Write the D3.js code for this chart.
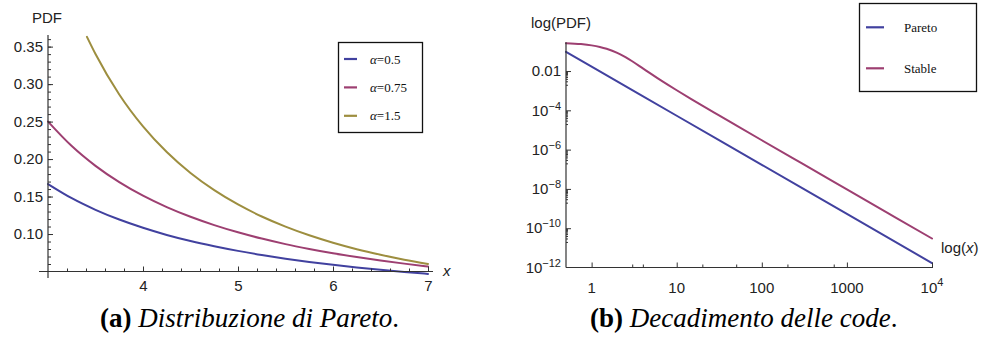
<!DOCTYPE html>
<html>
<head>
<meta charset="utf-8">
<script src="https://cdn.jsdelivr.net/npm/d3@7"></script>
<style>
  html, body { margin: 0; padding: 0; background: #fff; }
  svg { display: block; }
  .tick-label { font-family: "Liberation Sans", Arial, sans-serif; font-size: 15px; fill: #222; }
  .legend-text { font-family: "Liberation Serif", "Times New Roman", serif; font-size: 13px; fill: #111; }
  .caption { font-family: "Liberation Serif", "Times New Roman", serif; font-size: 27px; fill: #000; }
</style>
</head>
<body>
<svg id="chart" width="989" height="345"></svg>
<script>
// ---- Panel (a): Pareto densities for three tail indices ----
const paretoX = [3, 3.25, 3.5, 3.75, 4, 4.25, 4.5, 4.75, 5, 5.25, 5.5, 5.75, 6, 6.25, 6.5, 6.75, 7];
const pdfAlpha050 = [0.1667, 0.1478, 0.1323, 0.1193, 0.1083, 0.0988, 0.0907, 0.0837, 0.0775, 0.0720, 0.0671, 0.0628, 0.0589, 0.0554, 0.0523, 0.0494, 0.0468];
const pdfAlpha075 = [0.2500, 0.2173, 0.1909, 0.1692, 0.1511, 0.1359, 0.1230, 0.1119, 0.1023, 0.0939, 0.0865, 0.0801, 0.0743, 0.0692, 0.0646, 0.0605, 0.0567];
const paretoX15 = [3.41, 3.5, 3.75, 4, 4.25, 4.5, 4.75, 5, 5.25, 5.5, 5.75, 6, 6.25, 6.5, 6.75, 7];
const pdfAlpha150 = [0.3630, 0.3401, 0.2862, 0.2436, 0.2093, 0.1814, 0.1585, 0.1394, 0.1234, 0.1099, 0.0983, 0.0884, 0.0798, 0.0724, 0.0658, 0.0601];
const legendA = ["0.5", "0.75", "1.5"];
const yTicksA = [0.10, 0.15, 0.20, 0.25, 0.30, 0.35];
const xTicksA = [4, 5, 6, 7];

// ---- Panel (b): tail decay on log-log axes ----
const tailXPareto = [0.5, 1, 10, 100, 1000, 10000];
const tailPareto = [0.0949, 0.0168, 5.30e-5, 1.68e-7, 5.30e-10, 1.68e-12];
const tailXStable = [0.5, 0.75, 1, 1.25, 1.5, 2, 2.5, 3, 4, 5, 6, 8, 10, 15, 20, 30, 50, 100, 300, 1000, 3000, 10000];
const tailStable = [0.262, 0.2347, 0.2020, 0.1681, 0.1361, 0.0846, 0.0506, 0.0315, 0.01365, 0.00711, 0.00422, 0.00191, 0.00105, 3.63e-4, 1.73e-4, 6.19e-5, 1.71e-5, 3.0e-6, 1.92e-7, 9.46e-9, 6.07e-10, 2.99e-11];
const legendB = ["Pareto", "Stable"];
const yExpB = [-2, -4, -6, -8, -10, -12];
const xTicksB = [1, 10, 100, 1000, 10000];
const xMinorB = [3, 4, 20, 50, 200, 700];

const colors = ["#41419f", "#9d3f71", "#9d8e3f"];
const axisColor = "#333";

const svg = d3.select("#chart");

function drawCurve(g, xs, ys, x, y, color) {
  const pts = xs.map((v, i) => [v, ys[i]]);
  g.append("path")
    .datum(pts)
    .attr("fill", "none")
    .attr("stroke", color)
    .attr("stroke-width", 2)
    .attr("stroke-linecap", "round")
    .attr("d", d3.line().x(d => x(d[0])).y(d => y(d[1])).curve(d3.curveMonotoneX));
}

// ================= Panel (a) =================
(function () {
  const x = d3.scaleLinear().domain([3, 7]).range([48, 428]);
  const y = d3.scaleLinear().domain([0.05, 0.3655]).range([271.5, 35]);
  const g = svg.append("g");

  // curves
  drawCurve(g, paretoX, pdfAlpha050, x, y, colors[0]);
  drawCurve(g, paretoX, pdfAlpha075, x, y, colors[1]);
  drawCurve(g, paretoX15, pdfAlpha150, x, y, colors[2]);

  // axis lines (crossing at the origin corner)
  g.append("line").attr("x1", 39).attr("x2", 433).attr("y1", y(0.05)).attr("y2", y(0.05))
    .attr("stroke", axisColor).attr("stroke-width", 1.2);
  g.append("line").attr("x1", x(3)).attr("x2", x(3)).attr("y1", 35).attr("y2", 278)
    .attr("stroke", axisColor).attr("stroke-width", 1.2);

  // y axis: major + minor ticks pointing inward
  const yMajor = d3.axisLeft(y).tickValues(yTicksA).tickSize(-5).tickPadding(5)
    .tickFormat(d3.format(".2f"));
  const yMinor = d3.axisLeft(y).tickValues(d3.range(6, 37).map(v => v / 100)).tickSize(-3).tickFormat("");
  const gyMinor = g.append("g").attr("transform", `translate(${x(3)},0)`).call(yMinor);
  const gy = g.append("g").attr("transform", `translate(${x(3)},0)`).call(yMajor);
  [gy, gyMinor].forEach(a => {
    a.select(".domain").remove();
    a.selectAll("line").attr("stroke", axisColor);
  });
  gy.selectAll("text").attr("class", "tick-label").attr("font-size", null).attr("font-family", null);

  // x axis
  const xMajor = d3.axisBottom(x).tickValues(xTicksA).tickSize(-5).tickPadding(9).tickFormat(d3.format("d"));
  const xMinor = d3.axisBottom(x).tickValues(d3.range(16, 35).map(v => v / 5).filter(v => v % 1 !== 0)).tickSize(-3).tickFormat("");
  const gxMinor = g.append("g").attr("transform", `translate(0,${y(0.05)})`).call(xMinor);
  const gx = g.append("g").attr("transform", `translate(0,${y(0.05)})`).call(xMajor);
  [gx, gxMinor].forEach(a => {
    a.select(".domain").remove();
    a.selectAll("line").attr("stroke", axisColor);
  });
  gx.selectAll("text").attr("class", "tick-label").attr("font-size", null).attr("font-family", null);

  // axis titles
  g.append("text").attr("class", "tick-label").attr("x", 32).attr("y", 23).text("PDF");
  g.append("text").attr("class", "tick-label").attr("x", 443).attr("y", 276)
    .style("font-style", "italic").text("x");

  // legend
  const lg = g.append("g");
  lg.append("rect").attr("x", 338.5).attr("y", 42.5).attr("width", 84).attr("height", 90)
    .attr("fill", "#fff").attr("stroke", "#111").attr("stroke-width", 1.3);
  legendA.forEach((a, i) => {
    const cy = 59 + i * 28.4;
    lg.append("line").attr("x1", 344).attr("x2", 357).attr("y1", cy).attr("y2", cy)
      .attr("stroke", colors[i]).attr("stroke-width", 2.2);
    const t = lg.append("text").attr("class", "legend-text").attr("x", 370).attr("y", cy + 4.5);
    t.append("tspan").style("font-style", "italic").text("α");
    t.append("tspan").text("=" + a);
  });
})();

// ================= Panel (b) =================
(function () {
  const x = d3.scaleLog().domain([0.5, 1e4]).range([566, 932]);
  const y = d3.scaleLog().domain([1e-12, 0.29]).range([267.5, 42.3]);
  const g = svg.append("g");

  drawCurve(g, tailXStable, tailStable, x, y, colors[1]);
  drawCurve(g, tailXPareto, tailPareto, x, y, colors[0]);

  g.append("line").attr("x1", 566).attr("x2", 933).attr("y1", 267.5).attr("y2", 267.5)
    .attr("stroke", axisColor).attr("stroke-width", 1.2);
  g.append("line").attr("x1", 566).attr("x2", 566).attr("y1", 42.3).attr("y2", 267.5)
    .attr("stroke", axisColor).attr("stroke-width", 1.2);

  // y axis: decade ticks every two powers, minor ticks beneath each
  const yVals = yExpB.map(e => Math.pow(10, e));
  const yMinorVals = [];
  yExpB.slice(0, 5).forEach(e => { for (let k = 2; k <= 9; k++) yMinorVals.push(k * Math.pow(10, e - 1)); });
  const gyMinor = g.append("g").attr("transform", "translate(566,0)")
    .call(d3.axisLeft(y).tickValues(yMinorVals).tickSize(-2).tickFormat(""));
  const gy = g.append("g").attr("transform", "translate(566,0)")
    .call(d3.axisLeft(y).tickValues(yVals.slice(0, 5)).tickSize(-5).tickFormat(""));
  [gy, gyMinor].forEach(a => {
    a.select(".domain").remove();
    a.selectAll("line").attr("stroke", axisColor);
  });
  yExpB.forEach(e => {
    const t = g.append("text").attr("class", "tick-label").attr("text-anchor", "end")
      .attr("x", 561).attr("y", Math.min(y(Math.pow(10, e)), 267.5)).attr("dy", "0.35em");
    if (e === -2) {
      t.text("0.01");
    } else {
      t.append("tspan").text("10");
      t.append("tspan").attr("dy", "-0.55em").style("font-size", "11px").text("−" + (-e));
    }
  });

  // x axis
  const gxMinor = g.append("g").attr("transform", "translate(0,267.5)")
    .call(d3.axisBottom(x).tickValues(xMinorB).tickSize(-3).tickFormat(""));
  const gx = g.append("g").attr("transform", "translate(0,267.5)")
    .call(d3.axisBottom(x).tickValues(xTicksB).tickSize(-5).tickFormat(""));
  [gx, gxMinor].forEach(a => {
    a.select(".domain").remove();
    a.selectAll("line").attr("stroke", axisColor);
  });
  xTicksB.forEach(v => {
    const t = g.append("text").attr("class", "tick-label").attr("text-anchor", "middle")
      .attr("x", x(v)).attr("y", 292.5);
    if (v < 1e4) {
      t.text(d3.format("d")(v));
    } else {
      t.append("tspan").text("10");
      t.append("tspan").attr("dy", "-0.55em").style("font-size", "11px").text("4");
    }
  });

  // axis titles
  g.append("text").attr("class", "tick-label").attr("x", 531).attr("y", 28).text("log(PDF)");
  const xl = g.append("text").attr("class", "tick-label").attr("x", 941).attr("y", 253);
  xl.append("tspan").text("log(");
  xl.append("tspan").style("font-style", "italic").text("x");
  xl.append("tspan").text(")");

  // legend
  const lg = g.append("g");
  lg.append("rect").attr("x", 859.5).attr("y", 3.5).attr("width", 117).attr("height", 88)
    .attr("fill", "#fff").attr("stroke", "#111").attr("stroke-width", 1.3);
  legendB.forEach((name, i) => {
    const cy = 27.3 + i * 41;
    lg.append("line").attr("x1", 866).attr("x2", 884).attr("y1", cy).attr("y2", cy)
      .attr("stroke", i === 0 ? colors[0] : colors[1]).attr("stroke-width", 2.2);
    lg.append("text").attr("class", "legend-text").attr("x", 904).attr("y", cy + 4.5).text(name);
  });
})();

// ================= Captions =================
function caption(cx, tag, body) {
  const t = svg.append("text").attr("class", "caption").attr("x", cx).attr("y", 327);
  t.append("tspan").style("font-weight", "bold").text(tag);
  t.append("tspan").style("font-style", "italic").text(" " + body);
  t.append("tspan").text(".");
}
caption(100, "(a)", "Distribuzione di Pareto");
caption(590, "(b)", "Decadimento delle code");
</script>
</body>
</html>
